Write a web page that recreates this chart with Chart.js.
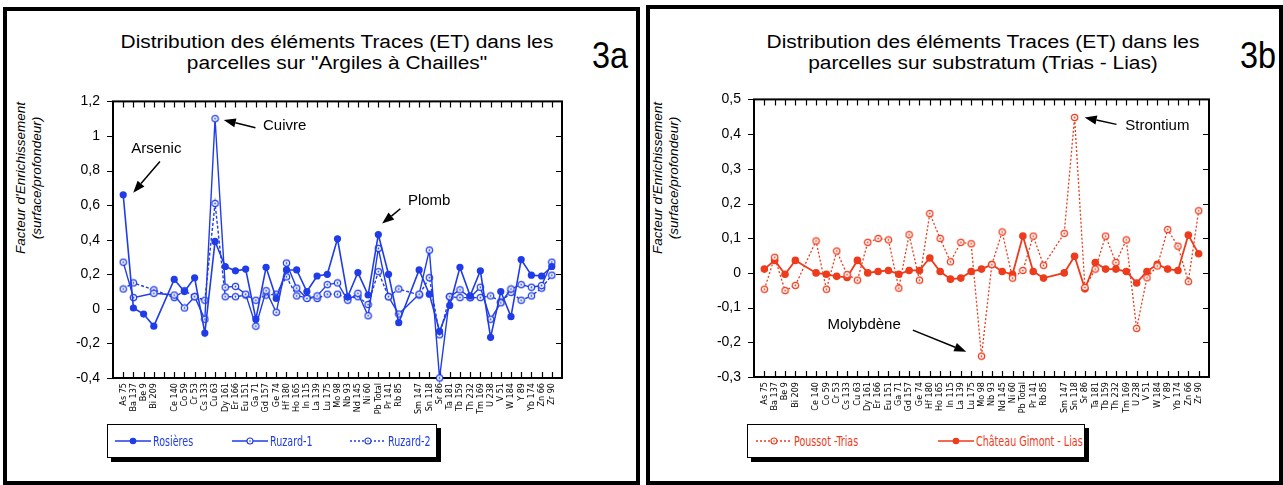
<!DOCTYPE html>
<html>
<head>
<meta charset="utf-8">
<script src="https://cdn.jsdelivr.net/npm/chart.js@4"></script>
<style>
body { margin: 0; background: #fff; font-family: "Liberation Sans", Arial, sans-serif; }
#wrap { position: relative; width: 1283px; height: 485px; overflow: hidden; }
.panel { position: absolute; box-sizing: border-box; border: 4px solid #000; background: #fff; }
.title { position: absolute; font-size: 18px; line-height: 21px; text-align: center; white-space: nowrap; transform: translateX(-50%) scaleX(1.16); }
.tag { position: absolute; font-size: 36px; line-height: 36px; transform: scaleX(0.9); transform-origin: left top; }
.ytitle { position: absolute; font-size: 13.5px; line-height: 16px; font-style: italic; text-align: center; white-space: nowrap; transform: translate(-50%, -50%) rotate(-90deg); }
.legend { position: absolute; box-sizing: border-box; height: 34px; border: 1px solid #000; background: #fff; box-shadow: 4px 4px 0 #000; }
.legend span { position: absolute; top: 8px; font-family: "Liberation Sans Narrow", "DejaVu Sans Condensed", sans-serif; font-size: 14px; line-height: 16px; white-space: nowrap; transform: scaleX(0.76); transform-origin: left top; }
.legend svg { position: absolute; top: 11px; }
canvas { position: absolute; }
</style>
</head>
<body>
<div id="wrap">
  <div class="panel" style="left:3px; top:7px; width:637px; height:478px;"></div>
  <div class="panel" style="left:646px; top:5px; width:637px; height:480px;"></div>

  <div class="title" style="left:337px; top:32px;">Distribution des éléments Traces (ET) dans les<br>parcelles sur "Argiles à Chailles"</div>
  <div class="title" style="left:983px; top:32px;">Distribution des éléments Traces (ET) dans les<br>parcelles sur substratum (Trias - Lias)</div>
  <div class="tag" style="left:592px; top:38px;">3a</div>
  <div class="tag" style="left:1240px; top:38px;">3b</div>

  <div class="ytitle" style="left:29px; top:178px;">Facteur d'Enrichissement<br>(surface/profondeur)</div>
  <div class="ytitle" style="left:666px; top:178px;">Facteur d'Enrichissement<br>(surface/profondeur)</div>

  <canvas id="chartA" width="520" height="345" style="left:60px; top:80px;"></canvas>
  <canvas id="chartB" width="530" height="345" style="left:700px; top:78px;"></canvas>

  <div class="legend" id="legA" style="left:107px; top:424px; width:330px;"></div>
  <div class="legend" id="legB" style="left:747px; top:424px; width:338px;"></div>
</div>

<script>
// x categories ('' = empty slot on the axis)
const elements = ['As 75', 'Ba 137', 'Be 9', 'Bi 209', '', 'Ce 140', 'Co 59', 'Cr 53', 'Cs 133', 'Cu 63',
  'Dy 161', 'Er 166', 'Eu 151', 'Ga 71', 'Gd 157', 'Ge 74', 'Hf 180', 'Ho 165', 'In 115', 'La 139',
  'Lu 175', 'Mo 98', 'Nb 93', 'Nd 145', 'Ni 60', 'Pb Total', 'Pr 141', 'Rb 85', '', 'Sm 147',
  'Sn 118', 'Sr 86', 'Ta 181', 'Tb 159', 'Th 232', 'Tm 169', 'U 238', 'V 51', 'W 184', 'Y 89',
  'Yb 174', 'Zn 66', 'Zr 90'];

// 3a - Argiles à Chailles
const rosieres = [0.66, 0.005, -0.03, -0.10, null, 0.17, 0.10, 0.18, -0.14, 0.39,
  0.245, 0.22, 0.23, -0.06, 0.24, 0.06, 0.225, 0.225, 0.10, 0.19,
  0.20, 0.405, 0.07, 0.21, 0.08, 0.43, 0.20, -0.08, null, 0.225,
  0.085, -0.13, 0.02, 0.24, 0.075, 0.22, -0.165, 0.10, -0.045, 0.285,
  0.195, 0.19, 0.245];
const ruzard1 = [0.27, 0.065, null, 0.09, null, 0.08, 0.005, 0.07, -0.06, 1.10,
  0.125, 0.13, 0.085, -0.10, 0.105, -0.02, 0.265, 0.12, 0.06, 0.075,
  0.14, 0.15, 0.05, 0.09, -0.04, 0.35, 0.07, -0.03, null, 0.085,
  0.34, -0.40, 0.07, 0.11, 0.065, 0.125, -0.06, 0.035, 0.115, 0.14,
  0.125, 0.135, 0.27];
const ruzard2 = [0.115, 0.15, null, 0.11, null, 0.065, 0.105, 0.07, 0.05, 0.61,
  0.07, 0.07, 0.08, 0.05, 0.08, 0.085, 0.185, 0.075, 0.065, 0.06,
  0.085, 0.085, 0.06, 0.07, 0.025, 0.215, 0.07, 0.115, null, 0.08,
  0.18, -0.15, 0.07, 0.065, 0.065, 0.065, 0.075, 0.04, 0.095, 0.05,
  0.075, 0.12, 0.195];

// 3b - substratum (Trias - Lias)
const poussot = [-0.047, 0.045, -0.051, -0.036, null, 0.092, -0.047, 0.063, -0.005, -0.021,
  0.088, 0.099, 0.095, -0.044, 0.11, -0.021, 0.171, 0.099, 0.032, 0.088,
  0.084, -0.24, 0.024, 0.118, -0.015, 0.007, 0.106, 0.022, null, 0.114,
  0.448, -0.042, 0.011, 0.106, 0.030, 0.095, -0.16, -0.014, 0.02, 0.125,
  0.077, -0.025, 0.179];
const gimont = [0.011, 0.036, -0.004, 0.036, null, 0.0, -0.004, -0.010, -0.013, 0.036,
  0.0, 0.004, 0.007, -0.004, 0.007, 0.007, 0.043, 0.004, -0.018, -0.015,
  0.004, 0.011, 0.024, 0.004, -0.004, 0.106, 0.004, -0.015, null, 0.0,
  0.048, -0.046, 0.030, 0.011, 0.011, 0.004, -0.029, 0.004, 0.025, 0.011,
  0.007, 0.109, 0.055];

const seriesA = ['Rosières', 'Ruzard-1', 'Ruzard-2'];
const seriesB = ['Poussot -Trias', 'Château Gimont - Lias'];

// y tick labels, bottom to top
const yLabelsA = ['-0,4', '-0,2', '0', '0,2', '0,4', '0,6', '0,8', '1', '1,2'];
const yLabelsB = ['-0,3', '-0,2', '-0,1', '0', '0,1', '0,2', '0,3', '0,4', '0,5'];

// callouts: [category index, value] for text anchor, arrow tail and arrow tip
const notesA = [
  { label: 'Arsenic', text: [0.8, 0.926], from: [3.6, 0.852], to: [0.98, 0.672] },
  { label: 'Cuivre', text: [13.7, 1.061], from: [12.96, 1.048], to: [9.85, 1.093] },
  { label: 'Plomb', text: [27.9, 0.622], from: [27.16, 0.579], to: [25.37, 0.493] }
];
const notesB = [
  { label: 'Strontium', text: [34.9, 0.423], from: [34.05, 0.428], to: [30.98, 0.448] },
  { label: 'Molybdène', text: [6.1, -0.151], from: [14.36, -0.165], to: [19.53, -0.227] }
];

const BLUE = '#1f3ce8';
const RED = '#ee3b1c';
const NARROW = '"Liberation Sans Narrow", "DejaVu Sans Condensed", sans-serif';
const SANS = '"Liberation Sans", Arial, sans-serif';

// one empty slot on each side of the axis
const pad = arr => [null, ...arr, null];
const labels = ['', ...elements, ''];

// open circle with a dot in the middle
function ringDot(color) {
  const c = document.createElement('canvas');
  c.width = 9; c.height = 9;
  const g = c.getContext('2d');
  g.fillStyle = '#fff';
  g.strokeStyle = color;
  g.lineWidth = 1.2;
  g.beginPath(); g.arc(4.5, 4.5, 3.2, 0, Math.PI * 2); g.fill(); g.stroke();
  g.fillStyle = color;
  g.beginPath(); g.arc(4.5, 4.5, 0.9, 0, Math.PI * 2); g.fill();
  return c;
}

// frame + inward tick marks
const frame = {
  id: 'frame',
  beforeDatasetsDraw(chart) {
    const { ctx, chartArea: a, scales: { x, y } } = chart;
    ctx.save();
    ctx.strokeStyle = '#000';
    ctx.lineWidth = 1.2;
    ctx.beginPath();
    for (let i = 1; i < x.ticks.length - 1; i++) {
      const px = Math.round(x.getPixelForTick(i)) + 0.5;
      ctx.moveTo(px, a.top); ctx.lineTo(px, a.top + 6);
      ctx.moveTo(px, a.bottom); ctx.lineTo(px, a.bottom - 6);
    }
    y.ticks.forEach((t, i) => {
      const py = Math.round(y.getPixelForTick(i)) + 0.5;
      ctx.moveTo(a.left - 6, py); ctx.lineTo(a.left, py);
      ctx.moveTo(a.right - 6, py); ctx.lineTo(a.right, py);
    });
    ctx.stroke();
    ctx.lineWidth = 2;
    ctx.strokeRect(a.left, a.top, a.right - a.left, a.bottom - a.top);
    ctx.restore();
  }
};

// text + arrow callouts
const notes = {
  id: 'notes',
  afterDatasetsDraw(chart, args, opts) {
    const { ctx, scales: { x, y } } = chart;
    const px = p => [x.getPixelForValue(p[0] + 1), y.getPixelForValue(p[1])];
    ctx.save();
    ctx.font = '15px ' + SANS;
    ctx.fillStyle = '#000';
    ctx.strokeStyle = '#000';
    ctx.lineWidth = 1.5;
    ctx.textBaseline = 'middle';
    opts.items.forEach(n => {
      const [tx, ty] = px(n.text);
      ctx.fillText(n.label, tx, ty);
      const [x1, y1] = px(n.from);
      const [x2, y2] = px(n.to);
      const ang = Math.atan2(y2 - y1, x2 - x1);
      const hl = 12, hw = 4.5;
      const bx = x2 - hl * Math.cos(ang), by = y2 - hl * Math.sin(ang);
      ctx.beginPath(); ctx.moveTo(x1, y1); ctx.lineTo(bx, by); ctx.stroke();
      ctx.beginPath();
      ctx.moveTo(x2, y2);
      ctx.lineTo(bx + hw * Math.sin(ang), by - hw * Math.cos(ang));
      ctx.lineTo(bx - hw * Math.sin(ang), by + hw * Math.cos(ang));
      ctx.closePath();
      ctx.fill();
    });
    ctx.restore();
  }
};

function makeChart(id, datasets, yMin, yMax, step, yLabels, yWidth, xHeight, padRight, items) {
  return new Chart(document.getElementById(id), {
    type: 'line',
    data: { labels, datasets },
    options: {
      responsive: false,
      animation: false,
      layout: { padding: { left: 0, right: padRight, top: 10, bottom: 0 } },
      plugins: { legend: { display: false }, tooltip: { enabled: false }, notes: { items } },
      scales: {
        x: {
          grid: { display: false, drawTicks: false },
          border: { display: false },
          afterFit: s => { s.height = xHeight; },
          ticks: {
            autoSkip: false, minRotation: 90, maxRotation: 90, padding: 5,
            color: '#000', font: { family: NARROW, size: 9 }
          }
        },
        y: {
          min: yMin, max: yMax,
          grid: { display: false, drawTicks: false },
          border: { display: false },
          afterFit: s => { s.width = yWidth; },
          ticks: {
            stepSize: step, padding: 13, color: '#000',
            font: { family: SANS, size: 14 },
            callback: (v, i) => yLabels[i]
          }
        }
      }
    },
    plugins: [frame, notes]
  });
}

const ringBlue = ringDot(BLUE);
const ringRed = ringDot(RED);

makeChart('chartA', [
  { label: seriesA[0], data: pad(rosieres), borderColor: BLUE, borderWidth: 1.6, pointStyle: 'circle',
    pointRadius: 3.6, pointBackgroundColor: BLUE, pointBorderWidth: 0, spanGaps: true, clip: false },
  { label: seriesA[1], data: pad(ruzard1), borderColor: BLUE, borderWidth: 1.4, pointStyle: ringBlue,
    pointRadius: 4, spanGaps: true, clip: false },
  { label: seriesA[2], data: pad(ruzard2), borderColor: BLUE, borderWidth: 1.4, borderDash: [3, 2],
    pointStyle: ringBlue, pointRadius: 4, spanGaps: true, clip: false }
], -0.4, 1.2, 0.2, yLabelsA, 53, 47, 18, notesA);

makeChart('chartB', [
  { label: seriesB[0], data: pad(poussot), borderColor: RED, borderWidth: 1.3, borderDash: [2, 2],
    pointStyle: ringRed, pointRadius: 4, spanGaps: true, clip: false },
  { label: seriesB[1], data: pad(gimont), borderColor: RED, borderWidth: 1.8, pointStyle: 'circle',
    pointRadius: 3.8, pointBackgroundColor: RED, pointBorderWidth: 0, spanGaps: true, clip: false }
], -0.3, 0.5, 0.1, yLabelsB, 54, 46, 21, notesB);

// legends: line sample + name
function sample(color, dash, filled) {
  const mark = filled
    ? `<circle cx="18" cy="5" r="3.3" fill="${color}"/>`
    : `<circle cx="18" cy="5" r="3" fill="#fff" stroke="${color}" stroke-width="1.1"/><circle cx="18" cy="5" r="0.8" fill="${color}"/>`;
  return `<svg width="36" height="10"><line x1="0" y1="5" x2="36" y2="5" stroke="${color}" stroke-width="1.3"` +
    (dash ? ` stroke-dasharray="${dash}"` : '') + `/>${mark}</svg>`;
}
function legend(id, color, items) {
  document.getElementById(id).innerHTML = items.map(it =>
    sample(color, it.dash, it.filled).replace('<svg', `<svg style="left:${it.x}px"`) +
    `<span style="left:${it.x + 38}px; color:${color}">${it.name}</span>`).join('');
}
legend('legA', BLUE, [
  { name: seriesA[0], x: 7, filled: true },
  { name: seriesA[1], x: 124 },
  { name: seriesA[2], x: 242, dash: '2 2' }
]);
legend('legB', RED, [
  { name: seriesB[0], x: 8, dash: '2 2' },
  { name: seriesB[1], x: 190, filled: true }
]);
</script>
</body>
</html>
